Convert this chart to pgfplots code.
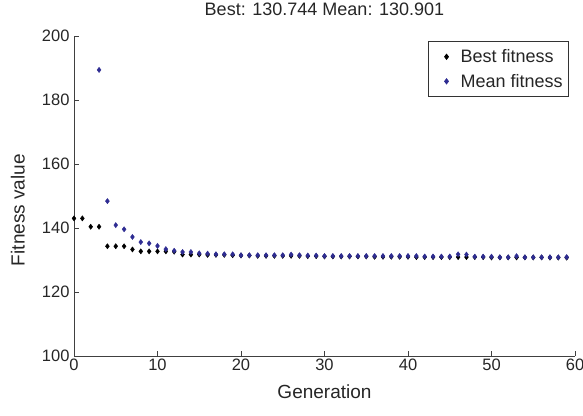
\documentclass[border=0pt]{standalone}
\usepackage{fontspec}
\setmainfont{Liberation Sans}
\usepackage{pgfplots}
\pgfplotsset{compat=1.18}
\definecolor{meanblue}{RGB}{46,44,146}

% best and mean fitness per generation
\pgfplotstableread{
gen best
0 143.0
1 143.0
2 140.4
3 140.4
4 134.3
5 134.3
6 134.3
7 133.3
8 132.7
9 132.7
10 132.7
11 132.7
12 132.6
13 131.7
14 131.7
15 131.7
16 131.6
17 131.6
18 131.6
19 131.5
20 131.4
21 131.4
22 131.3
23 131.3
24 131.3
25 131.3
26 131.3
27 131.3
28 131.2
29 131.2
30 131.1
31 131.1
32 131.1
33 131.1
34 131.1
35 131.1
36 131.0
37 131.0
38 131.0
39 131.0
40 131.0
41 130.9
42 130.9
43 130.9
44 130.9
45 130.9
46 130.9
47 130.9
48 130.9
49 130.9
50 130.8
51 130.8
52 130.8
53 130.8
54 130.8
55 130.8
56 130.8
57 130.75
58 130.75
59 130.744
}\besttab

\pgfplotstableread{
gen mean
3 189.4
4 148.4
5 140.9
6 139.6
7 137.2
8 135.6
9 135.2
10 134.4
11 133.4
12 132.9
13 132.5
14 132.5
15 132.1
16 132.0
17 131.8
18 131.8
19 131.8
20 131.5
21 131.5
22 131.5
23 131.5
24 131.5
25 131.5
26 131.7
27 131.5
28 131.4
29 131.4
30 131.25
31 131.25
32 131.25
33 131.25
34 131.25
35 131.25
36 131.25
37 131.25
38 131.25
39 131.25
40 131.25
41 131.25
42 131.1
43 131.1
44 131.1
45 131.1
46 131.8
47 131.7
48 131.05
49 131.05
50 131.05
51 130.85
52 130.85
53 131.2
54 130.85
55 130.85
56 130.85
57 130.85
58 130.85
59 130.901
}\meantab

\begin{document}
\begin{tikzpicture}
\useasboundingbox (0,0) rectangle (583pt,415pt);
\begin{axis}[
  at={(74pt,59pt)}, anchor=south west,
  scale only axis, width=501pt, height=320pt,
  xmin=0, xmax=60, ymin=100, ymax=200,
  xtick={0,10,...,60}, ytick={100,120,...,200},
  axis x line*=bottom, axis y line*=left,
  axis line style={-, line width=0.9pt, black!75},
  tick style={line width=0.8pt, black!75},
  tick align=inside, major tick length=5pt,
  /pgf/number format/assume math mode=true,
  ticklabel style={font=\fontsize{16.5}{18}\selectfont, text=black!85},
  xticklabel style={yshift=1pt},
  yticklabel style={xshift=-1pt},
  title={Best: 130.744 Mean: 130.901},
  title style={at={(axis description cs:0.5,1.066)}, anchor=center,
    font=\fontsize{18}{20}\selectfont, text=black!85},
  xlabel={Generation},
  xlabel style={at={(axis description cs:0.5,-0.1125)}, anchor=center,
    font=\fontsize{19}{21}\selectfont, text=black!85},
  ylabel={Fitness value},
  ylabel style={at={(axis description cs:-0.112,0.456)}, anchor=center,
    font=\fontsize{19}{21}\selectfont, text=black!85},
  legend style={at={(axis description cs:0.988,0.984)}, anchor=north east,
    draw=black!80, line width=0.8pt, font=\fontsize{18}{20}\selectfont,
    inner xsep=4pt, inner ysep=6pt, row sep=6pt,
    text=black!85},
  legend cell align=left,
  legend image code/.code={%
    \path[draw=none, fill=none] (0pt,0pt) -- (26pt,0pt);
    \draw[#1] plot coordinates {(14pt,0pt)};},
]
\addplot[only marks, mark=diamond*, mark size=2.6pt, black] table[x=gen, y=best] {\besttab};
\addplot[only marks, mark=diamond*, mark size=2.6pt, meanblue] table[x=gen, y=mean] {\meantab};
\legend{Best fitness, Mean fitness}
\end{axis}
\end{tikzpicture}
\end{document}
